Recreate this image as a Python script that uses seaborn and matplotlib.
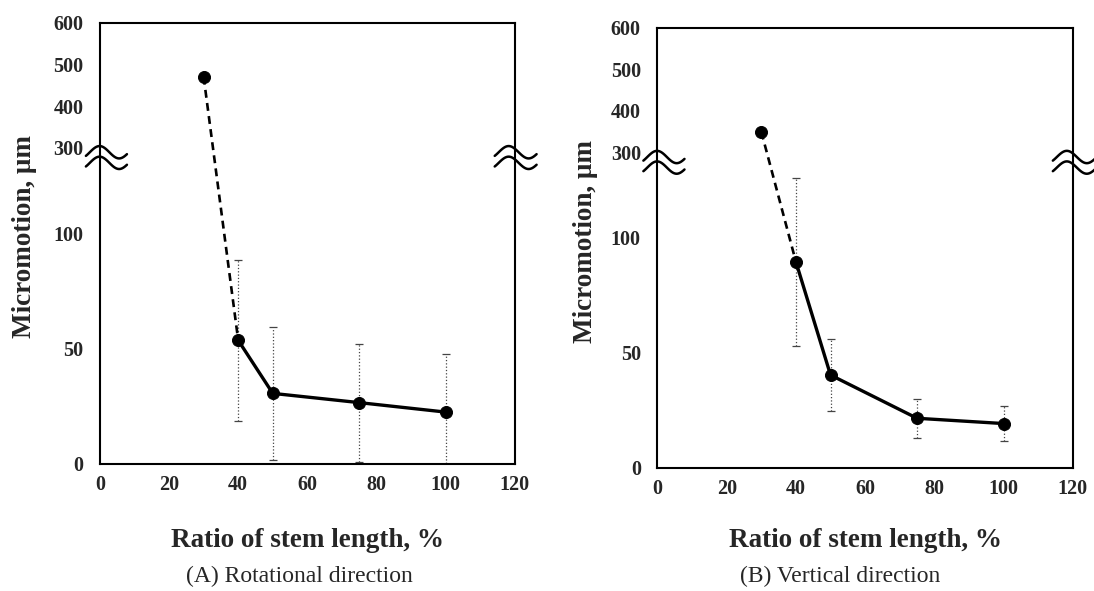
import matplotlib
matplotlib.use("Agg")
import matplotlib.pyplot as plt
import numpy as np
import pandas as pd
import seaborn as sns

# stem length ratio (%), mean micromotion (um) and SD
ratio = [30, 40, 50, 75, 100]

rot_mean = [470, 53.6, 30.6, 26.6, 22.5]
rot_sd = [0, 35.0, 28.7, 25.6, 25.3]

ver_mean = [350, 89.5, 40.3, 21.5, 19.2]
ver_sd = [0, 36.5, 15.7, 8.4, 7.5]

x_ticks = [0, 20, 40, 60, 80, 100, 120]
y_ticks = [0, 50, 100, 300, 400, 500, 600]

captions = ["(A) Rotational direction", "(B) Vertical direction"]

# broken y axis: 0-128 linear, 128-300 squeezed, 300-600 compressed
BRK_LO, BRK_HI = 128, 300
_xp = [-1e4, 0, BRK_LO, BRK_HI, 1e4]
_fp = [-1e4, 0, BRK_LO, 137, 137 + (1e4 - BRK_HI) * 0.181]


def fwd(v):
    return np.interp(v, _xp, _fp)


def inv(v):
    return np.interp(v, _fp, _xp)


sns.set_style("white")
plt.rcParams["font.family"] = ["Liberation Serif", "DejaVu Serif"]

fig = plt.figure(figsize=(10.94, 5.91), dpi=100)
ax_a = fig.add_axes([0.0914, 0.2149, 0.379, 0.747])
ax_b = fig.add_axes([0.601, 0.2086, 0.3796, 0.7445])

panels = [
    (ax_a, rot_mean, rot_sd, -0.152, 0.516, 0.274, 24),
    (ax_b, ver_mean, ver_sd, -0.143, 0.515, 0.768, 21),
]

for i, (ax, mean, sd, ylx, yly, capx, xpad) in enumerate(panels):
    ax.set_yscale("function", functions=(fwd, inv))

    df = pd.DataFrame({"ratio": ratio, "mean": mean, "sd": sd})
    first = df.iloc[:2]
    rest = df.iloc[1:]

    sns.lineplot(data=first, x="ratio", y="mean", ax=ax, color="black",
                 lw=1.9, linestyle=(0, (3, 2)), zorder=3)
    sns.lineplot(data=rest, x="ratio", y="mean", ax=ax, color="black",
                 lw=2.4, zorder=3)
    sns.scatterplot(data=df, x="ratio", y="mean", ax=ax, color="black",
                    s=75, edgecolor="black", zorder=4)

    eb = ax.errorbar(rest["ratio"], rest["mean"], yerr=rest["sd"], fmt="none",
                     ecolor="#444444", elinewidth=0.9, capsize=2.8,
                     capthick=0.9, zorder=2)
    eb[2][0].set_linestyle(":")

    ax.set_xlim(0, 120)
    ax.set_ylim(0, 600)
    ax.set_xticks(x_ticks)
    ax.set_yticks(y_ticks)
    ax.tick_params(length=0, labelsize=14.5)
    ax.tick_params(axis="y", pad=12)
    ax.tick_params(axis="x", pad=8)
    for lab in ax.get_xticklabels() + ax.get_yticklabels():
        lab.set_fontweight("bold")

    for sp in ax.spines.values():
        sp.set_visible(True)
        sp.set_color("black")
        sp.set_linewidth(1.5)

    ax.set_xlabel("Ratio of stem length, %", fontsize=19.5, fontweight="bold",
                  labelpad=xpad)
    ax.set_ylabel("Micromotion, \u03bcm", fontsize=19.5, fontweight="bold")
    ax.yaxis.set_label_coords(ylx, yly)

    # break marks on both spines
    frac = fwd(BRK_HI) / fwd(600)
    t = np.linspace(-0.1, 0.95, 60)
    for x0, w in [(-0.034, 0.099), (0.952, 0.101)]:
        xs = x0 + (t + 0.1) / 1.05 * w
        for yc in [frac - 0.01, frac - 0.034]:
            ax.plot(xs, yc + 0.014 * np.sin(2 * np.pi * t), color="black",
                    lw=1.8, transform=ax.transAxes, clip_on=False, zorder=5)

    fig.text(capx, 0.024, captions[i], fontsize=17, ha="center", va="center")

fig.savefig("out.png", dpi=100)
